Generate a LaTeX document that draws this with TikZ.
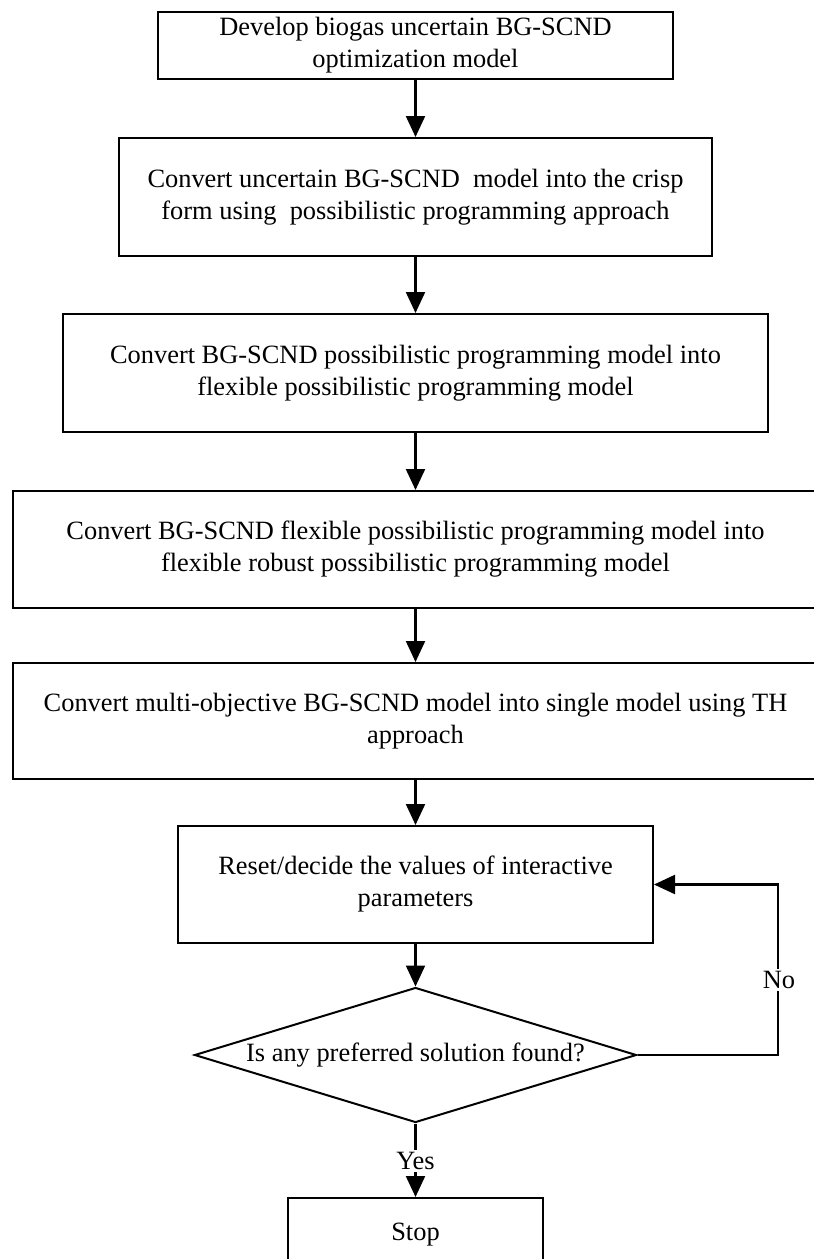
\documentclass[tikz,border=0pt]{standalone}
\usepackage{fontspec}
\setmainfont{Liberation Serif}
\usetikzlibrary{arrows.meta,shapes.geometric}
\begin{document}
\begin{tikzpicture}[x=1pt,y=-1pt,
  txt/.style={font=\fontsize{26.4}{32}\selectfont},
  box/.style={txt, draw, line width=2pt, rectangle, inner sep=0pt, align=center},
  decision/.style={txt, draw, line width=2pt, diamond, aspect=3.27, inner sep=0pt, align=center},
  arr/.style={line width=2.2pt, -{Triangle[length=21pt,width=19pt]}},
  lbl/.style={txt, fill=white, inner sep=2pt}]
\useasboundingbox (0,0) rectangle (814,1259);

\node[box, minimum width=515pt, minimum height=67pt] (b1) at (415.5,45.5)
  {Develop biogas uncertain BG-SCND\\optimization model};
\node[box, minimum width=593pt, minimum height=118pt] (b2) at (415.5,197)
  {Convert uncertain BG-SCND\ \ model into the crisp\\form using\ \ possibilistic programming approach};
\node[box, minimum width=705pt, minimum height=118pt] (b3) at (415.5,373)
  {Convert BG-SCND possibilistic programming model into\\flexible possibilistic programming model};
\node[box, minimum width=805pt, minimum height=117pt] (b4) at (415.5,549.5)
  {Convert BG-SCND flexible possibilistic programming model into\\flexible robust possibilistic programming model};
\node[box, minimum width=805pt, minimum height=116pt] (b5) at (415.5,721)
  {Convert multi-objective BG-SCND model into single model using TH\\approach};
\node[box, minimum width=475pt, minimum height=117pt] (b6) at (415.5,884.5)
  {Reset/decide the values of interactive\\parameters};
\node[decision, minimum width=442pt, minimum height=135pt] (dec) at (415.5,1055)
  {Is any preferred solution found?};
\node[box, minimum width=255pt, minimum height=74pt] (stop) at (415.5,1235) {Stop};

\draw[arr] (b1) -- (b2);
\draw[arr] (b2) -- (b3);
\draw[arr] (b3) -- (b4);
\draw[arr] (b4) -- (b5);
\draw[arr] (b5) -- (b6);
\draw[arr] (b6) -- (dec);
\draw[arr] (dec) -- (stop);
\node[lbl] (yes) at (415.5,1161) {Yes};

\coordinate (nobend) at (778,1055);
\coordinate (notop) at (778,884.5);
\draw[arr] (dec.east) -- (nobend) -- (notop) -- (b6.east);
\node[lbl] (no) at (779,980) {No};
\end{tikzpicture}
\end{document}
